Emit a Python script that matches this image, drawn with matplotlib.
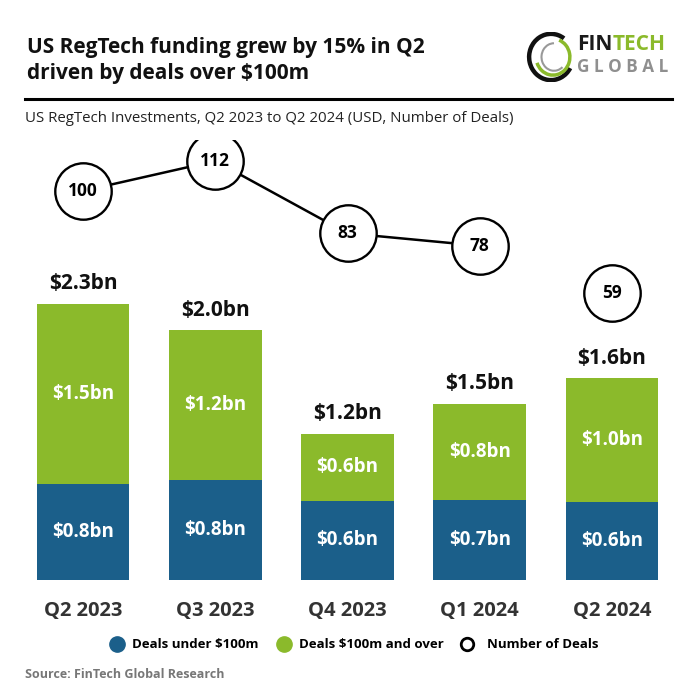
import matplotlib
matplotlib.use("Agg")
from matplotlib import pyplot as plt
from matplotlib.patches import Arc
import numpy as np

plt.rcParams['font.family'] = ['Open Sans', 'DejaVu Sans']

quarters = ["Q2 2023", "Q3 2023", "Q4 2023", "Q1 2024", "Q2 2024"]
under_100m = [0.80, 0.83, 0.66, 0.67, 0.65]
over_100m = [1.50, 1.25, 0.56, 0.80, 1.03]
under_labels = ["$0.8bn", "$0.8bn", "$0.6bn", "$0.7bn", "$0.6bn"]
over_labels = ["$1.5bn", "$1.2bn", "$0.6bn", "$0.8bn", "$1.0bn"]
total_labels = ["$2.3bn", "$2.0bn", "$1.2bn", "$1.5bn", "$1.6bn"]
deals = [100, 112, 83, 78, 59]

blue = "#1b5f8a"
green = "#8bba2b"

fig = plt.figure(figsize=(6.96, 6.96), dpi=100)
W = H = 696.0

# bar axes (pixel placement of the plot area)
ax = fig.add_axes([17 / W, (H - 580) / H, 661 / W, 440 / H])
x = np.arange(len(quarters))
ax.bar(x, under_100m, width=0.70, color=blue)
ax.bar(x, over_100m, width=0.70, bottom=under_100m, color=green)
ax.set_xlim(-0.5, 4.5)
ax.set_ylim(0, 440 / 120)
ax.axis("off")

tops = np.array(under_100m) + np.array(over_100m)
for i in range(len(x)):
    ax.text(x[i], under_100m[i] / 2, under_labels[i], ha="center", va="center",
            color="white", fontsize=13.5, fontweight="bold")
    ax.text(x[i], under_100m[i] + over_100m[i] / 2, over_labels[i], ha="center",
            va="center", color="white", fontsize=13.5, fontweight="bold")
    ax.annotate(total_labels[i], (x[i], tops[i]), xytext=(0, 7), textcoords="offset points",
                ha="center", va="bottom", fontsize=15, fontweight="bold", color="#111111")
    ax.annotate(quarters[i], (x[i], 0), xytext=(0, -22), textcoords="offset points",
                ha="center", va="center", fontsize=14.5, fontweight="bold", color="#333333",
                annotation_clip=False)

# number of deals
ax2 = ax.twinx()
ax2.set_ylim(-56.0, 120.4)
ax2.axis("off")
ax2.plot(x[:4], deals[:4], color="black", lw=1.8, zorder=2)
ax2.scatter(x, deals, s=1650, facecolor="white", edgecolor="black", linewidth=1.7, zorder=3)
for i in range(len(x)):
    ax2.text(x[i], deals[i], str(deals[i]), ha="center", va="center",
             fontsize=12.5, fontweight="bold", zorder=4)

# title, rule, subtitle
fig.text(27 / W, 1 - 48 / H, "US RegTech funding grew by 15% in Q2", fontsize=15,
         fontweight="bold", va="center", color="#111111")
fig.text(27 / W, 1 - 73 / H, "driven by deals over $100m", fontsize=15,
         fontweight="bold", va="center", color="#111111")
fig.add_artist(plt.Line2D([25 / W, 672 / W], [1 - 99 / H, 1 - 99 / H], color="black", lw=2.2))
fig.text(25 / W, 1 - 118 / H, "US RegTech Investments, Q2 2023 to Q2 2024 (USD, Number of Deals)",
         fontsize=10.8, va="center", color="#222222")

# logo
lax = fig.add_axes([526 / W, 1 - 82 / H, 50 / W, 50 / H])
lax.set_xlim(-1, 1)
lax.set_ylim(-1, 1)
lax.set_aspect("equal")
lax.axis("off")
lax.add_patch(Arc((0, 0), 1.75, 1.85, theta1=55, theta2=330, color="#111111", lw=3.2))
lax.add_patch(Arc((0.08, 0), 1.35, 1.45, theta1=200, theta2=70, color="#8bba2b", lw=2.5))
lax.add_patch(Arc((0.12, 0), 1.0, 1.1, theta1=90, theta2=310, color="#999999", lw=1.5))
t_fin = fig.text(577 / W, 1 - 44 / H, "FIN", fontsize=15, fontweight="bold", va="center",
                 color="#1a1a1a")
fig.canvas.draw()
bb = t_fin.get_window_extent()
fig.text(bb.x1 / W, 1 - 44 / H, "TECH", fontsize=15, fontweight="bold", va="center",
         color="#8bba2b")
fig.text(577 / W, 1 - 67 / H, "G L O B A L", fontsize=12.3, fontweight="bold", va="center",
         color="#8f8f8f")

# legend
ly = 1 - 644 / H
fig.add_artist(plt.Line2D([117 / W], [ly], marker="o", markersize=11, color=blue, ls="none"))
fig.text(132 / W, ly, "Deals under $100m", fontsize=9.5, fontweight="bold", va="center")
fig.add_artist(plt.Line2D([284 / W], [ly], marker="o", markersize=11, color=green, ls="none"))
fig.text(299 / W, ly, "Deals $100m and over", fontsize=9.5, fontweight="bold", va="center")
fig.add_artist(plt.Line2D([467 / W], [ly], marker="o", markersize=9, markerfacecolor="white",
                          markeredgecolor="black", markeredgewidth=2, ls="none"))
fig.text(487 / W, ly, "Number of Deals", fontsize=9.5, fontweight="bold", va="center")

fig.text(25 / W, 1 - 675 / H, "Source: FinTech Global Research", fontsize=9, fontweight="bold",
         va="center", color="#777777")

fig.savefig("out.png", dpi=100, facecolor="white")
